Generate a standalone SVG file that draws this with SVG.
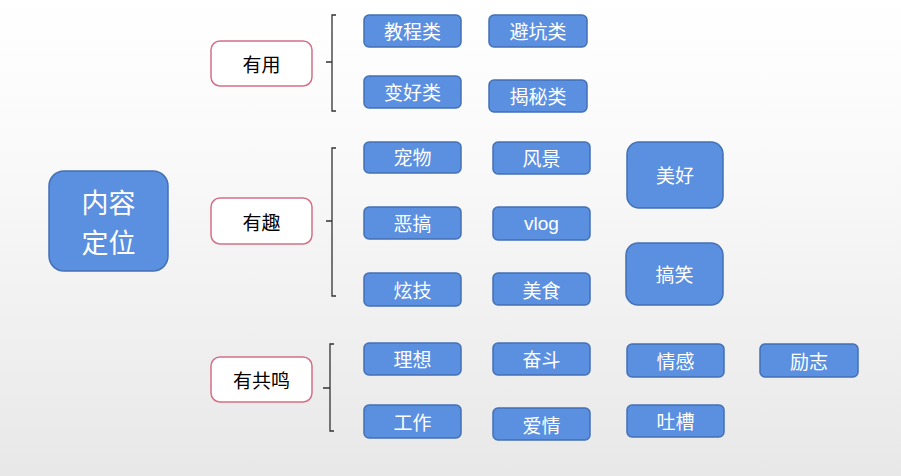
<svg xmlns="http://www.w3.org/2000/svg" width="901" height="476" viewBox="0 0 901 476">
<defs>
<linearGradient id="bg" x1="0" y1="0" x2="0" y2="1">
<stop offset="0" stop-color="#ffffff"/>
<stop offset="0.3" stop-color="#fafafa"/>
<stop offset="1" stop-color="#e8e8e8"/>
</linearGradient>
</defs>
<style>
.b{fill:#5b8fdf;stroke:#4470b5;stroke-width:1.5}
.bt{fill:#ffffff;font-family:"Noto Sans CJK SC","Liberation Sans",sans-serif;font-size:19px;text-anchor:middle;dominant-baseline:central}
.c{fill:#ffffff;stroke:#d47088;stroke-width:1.5}
.ct{fill:#000000;font-family:"Noto Sans CJK SC","Liberation Sans",sans-serif;font-size:19px;text-anchor:middle;dominant-baseline:central}
.br{fill:none;stroke:#333333;stroke-width:1.3}
</style>
<rect x="0" y="0" width="901" height="476" fill="url(#bg)"/>
<g id="connectors">
<path class="br" d="M336,15 H332 V111 H336 M326,62 H332"/>
<path class="br" d="M336,148 H332 V296 H336 M326,221 H332"/>
<path class="br" d="M334,344 H330 V431 H334 M323,388 H330"/>
</g>
<g id="root">
<rect x="49" y="171" width="119" height="100" rx="15" class="b"/>
<text x="108.5" y="201.5" class="bt" style="font-size:27px">内容</text>
<text x="108.5" y="241.5" class="bt" style="font-size:27px">定位</text>
</g>
<g id="youyong"><rect x="211" y="41" width="101" height="45" rx="9" class="c"/><text x="261.5" y="63" class="ct">有用</text></g>
<g id="youqu"><rect x="211" y="198" width="101" height="46" rx="9" class="c"/><text x="261.5" y="221" class="ct">有趣</text></g>
<g id="yougongming"><rect x="211" y="357" width="101" height="45" rx="9" class="c"/><text x="261.5" y="379" class="ct">有共鸣</text></g>
<g id="jiaocheng"><rect x="364" y="15" width="97" height="32" rx="5" class="b"/><text x="412.5" y="30" class="bt">教程类</text></g>
<g id="bikeng"><rect x="489" y="15" width="98" height="32" rx="5" class="b"/><text x="538" y="30" class="bt">避坑类</text></g>
<g id="bianhao"><rect x="364" y="76" width="97" height="32" rx="5" class="b"/><text x="412.5" y="91" class="bt">变好类</text></g>
<g id="jiemi"><rect x="489" y="80" width="98" height="32" rx="5" class="b"/><text x="538" y="95" class="bt">揭秘类</text></g>
<g id="chongwu"><rect x="364" y="142" width="97" height="31" rx="5" class="b"/><text x="412.5" y="156" class="bt">宠物</text></g>
<g id="egao"><rect x="364" y="207" width="97" height="32" rx="5" class="b"/><text x="412.5" y="222" class="bt">恶搞</text></g>
<g id="xuanji"><rect x="364" y="273" width="97" height="33" rx="5" class="b"/><text x="412.5" y="289" class="bt">炫技</text></g>
<g id="fengjing"><rect x="493" y="142" width="97" height="32" rx="5" class="b"/><text x="541.5" y="157" class="bt">风景</text></g>
<g id="vlog"><rect x="493" y="207" width="97" height="33" rx="5" class="b"/><text x="541.5" y="223" class="bt" style="font-family:'Liberation Sans','Noto Sans CJK SC',sans-serif">vlog</text></g>
<g id="meishi"><rect x="493" y="273" width="97" height="32" rx="5" class="b"/><text x="541.5" y="289" class="bt">美食</text></g>
<g id="meihao"><rect x="627" y="142" width="96" height="66" rx="12" class="b"/><text x="675" y="174" class="bt">美好</text></g>
<g id="gaoxiao"><rect x="626" y="243" width="97" height="62" rx="12" class="b"/><text x="674.5" y="273" class="bt">搞笑</text></g>
<g id="lixiang"><rect x="364" y="343" width="97" height="32" rx="5" class="b"/><text x="412.5" y="358" class="bt">理想</text></g>
<g id="fendou"><rect x="493" y="343" width="97" height="32" rx="5" class="b"/><text x="541.5" y="358" class="bt">奋斗</text></g>
<g id="gongzuo"><rect x="364" y="405" width="97" height="33" rx="5" class="b"/><text x="412.5" y="421" class="bt">工作</text></g>
<g id="aiqing"><rect x="493" y="408" width="97" height="32" rx="5" class="b"/><text x="541.5" y="424" class="bt">爱情</text></g>
<g id="qinggan"><rect x="627" y="344" width="97" height="33" rx="5" class="b"/><text x="675.5" y="360" class="bt">情感</text></g>
<g id="lizhi"><rect x="760" y="344" width="98" height="33" rx="5" class="b"/><text x="809" y="360" class="bt">励志</text></g>
<g id="tucao"><rect x="627" y="405" width="97" height="32" rx="5" class="b"/><text x="675.5" y="420" class="bt">吐槽</text></g>
</svg>
